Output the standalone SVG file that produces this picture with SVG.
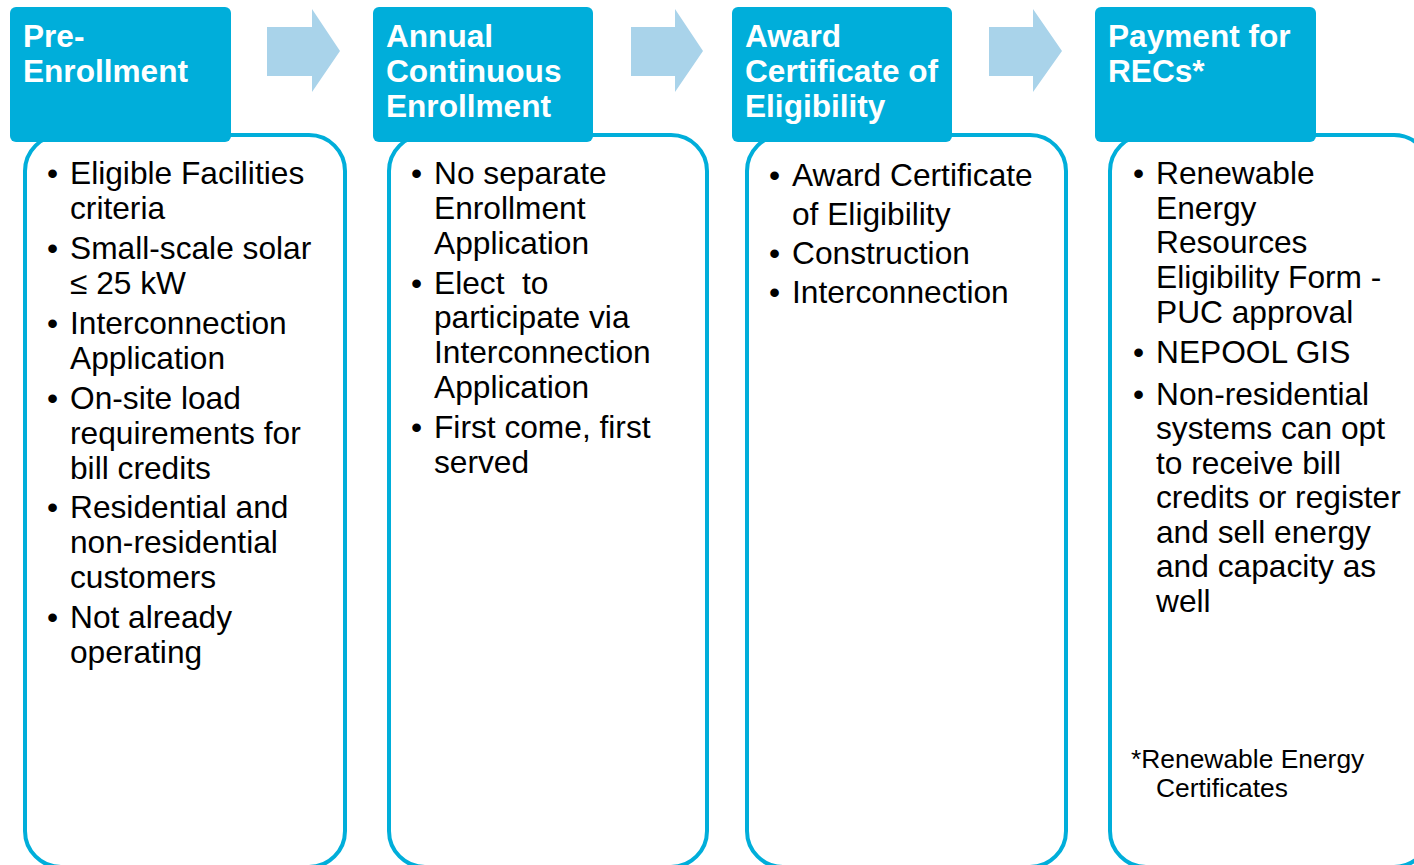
<svg xmlns="http://www.w3.org/2000/svg" width="1414" height="865" viewBox="0 0 1414 865">
<style>
.box{fill:#ffffff;stroke:#00AEDA;stroke-width:4}
.tab{fill:#00AEDA}
.arrow{fill:#A9D3EA}
.hd{font-family:"Liberation Sans",Arial,sans-serif;font-weight:bold;font-size:31.6px;fill:#ffffff}
.bd{font-family:"Liberation Sans",Arial,sans-serif;font-size:31.7px;fill:#000000}
.fn{font-family:"Liberation Sans",Arial,sans-serif;font-size:26.4px;fill:#000000}
</style>
<rect width="1414" height="865" fill="#ffffff"/>
<g id="connectors">
<polygon class="arrow" points="267,27 312,27 312,9 340,51 312,92 312,76 267,76"/>
<polygon class="arrow" points="631,27 675,27 675,9 703,51 675,92 675,76 631,76"/>
<polygon class="arrow" points="989,27 1033,27 1033,9 1062,51 1033,92 1033,76 989,76"/>
</g>
<g id="step1">
<rect class="box" x="25" y="135" width="320" height="732" rx="36"/>
<rect class="tab" x="10" y="7" width="221" height="135" rx="6"/>
<text class="hd" x="23"><tspan x="23" y="47">Pre-</tspan><tspan x="23" y="82">Enrollment</tspan></text>
<text class="bd">
<tspan x="47" y="184">•</tspan><tspan x="70" y="184">Eligible Facilities</tspan>
<tspan x="70" y="219">criteria</tspan>
<tspan x="47" y="259">•</tspan><tspan x="70" y="259">Small-scale solar</tspan>
<tspan x="70" y="294">≤ 25 kW</tspan>
<tspan x="47" y="334">•</tspan><tspan x="70" y="334">Interconnection</tspan>
<tspan x="70" y="369">Application</tspan>
<tspan x="47" y="409">•</tspan><tspan x="70" y="409">On-site load</tspan>
<tspan x="70" y="444">requirements for</tspan>
<tspan x="70" y="479">bill credits</tspan>
<tspan x="47" y="518">•</tspan><tspan x="70" y="518">Residential and</tspan>
<tspan x="70" y="553">non-residential</tspan>
<tspan x="70" y="588">customers</tspan>
<tspan x="47" y="628">•</tspan><tspan x="70" y="628">Not already</tspan>
<tspan x="70" y="663">operating</tspan>
</text>
</g>
<g id="step2">
<rect class="box" x="389" y="135" width="318" height="732" rx="36"/>
<rect class="tab" x="373" y="7" width="220" height="135" rx="6"/>
<text class="hd"><tspan x="386" y="47">Annual</tspan><tspan x="386" y="82">Continuous</tspan><tspan x="386" y="117">Enrollment</tspan></text>
<text class="bd">
<tspan x="411" y="184">•</tspan><tspan x="434" y="184">No separate</tspan>
<tspan x="434" y="219">Enrollment</tspan>
<tspan x="434" y="254">Application</tspan>
<tspan x="411" y="294">•</tspan><tspan x="434" y="294" xml:space="preserve">Elect  to</tspan>
<tspan x="434" y="328">participate via</tspan>
<tspan x="434" y="363">Interconnection</tspan>
<tspan x="434" y="398">Application</tspan>
<tspan x="411" y="438">•</tspan><tspan x="434" y="438">First come, first</tspan>
<tspan x="434" y="473">served</tspan>
</text>
</g>
<g id="step3">
<rect class="box" x="747" y="135" width="319" height="732" rx="36"/>
<rect class="tab" x="732" y="7" width="220" height="135" rx="6"/>
<text class="hd"><tspan x="745" y="47">Award</tspan><tspan x="745" y="82">Certificate of</tspan><tspan x="745" y="117">Eligibility</tspan></text>
<text class="bd">
<tspan x="769" y="186">•</tspan><tspan x="792" y="186">Award Certificate</tspan>
<tspan x="792" y="225">of Eligibility</tspan>
<tspan x="769" y="264">•</tspan><tspan x="792" y="264">Construction</tspan>
<tspan x="769" y="303">•</tspan><tspan x="792" y="303">Interconnection</tspan>
</text>
</g>
<g id="step4">
<rect class="box" x="1110" y="135" width="320" height="732" rx="36"/>
<rect class="tab" x="1095" y="7" width="221" height="135" rx="6"/>
<text class="hd"><tspan x="1108" y="47">Payment for</tspan><tspan x="1108" y="82">RECs*</tspan></text>
<text class="bd">
<tspan x="1133" y="184">•</tspan><tspan x="1156" y="184">Renewable</tspan>
<tspan x="1156" y="219">Energy</tspan>
<tspan x="1156" y="253">Resources</tspan>
<tspan x="1156" y="288">Eligibility Form -</tspan>
<tspan x="1156" y="323">PUC approval</tspan>
<tspan x="1133" y="363">•</tspan><tspan x="1156" y="363">NEPOOL GIS</tspan>
<tspan x="1133" y="405">•</tspan><tspan x="1156" y="405">Non-residential</tspan>
<tspan x="1156" y="439">systems can opt</tspan>
<tspan x="1156" y="474">to receive bill</tspan>
<tspan x="1156" y="508">credits or register</tspan>
<tspan x="1156" y="543">and sell energy</tspan>
<tspan x="1156" y="577">and capacity as</tspan>
<tspan x="1156" y="612">well</tspan>
</text>
<text class="fn"><tspan x="1131" y="768">*Renewable Energy</tspan><tspan x="1156" y="797">Certificates</tspan></text>
</g>
</svg>
